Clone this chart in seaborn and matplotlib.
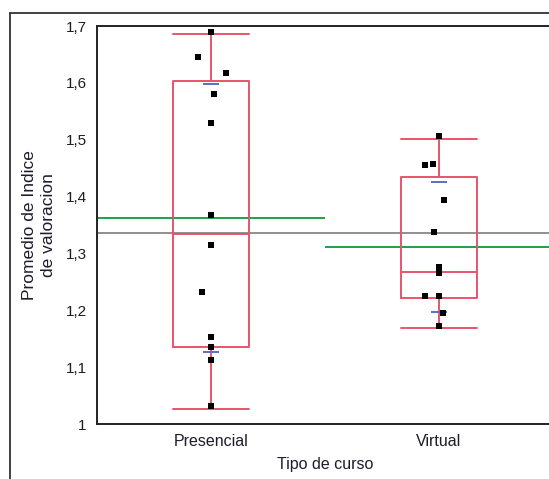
import numpy as np
import pandas as pd
import matplotlib
matplotlib.use('Agg')
import matplotlib.pyplot as plt
from matplotlib.lines import Line2D
import seaborn as sns

# datos
categorias = ['Presencial', 'Virtual']
valores_presencial = [1.690, 1.645, 1.618, 1.580, 1.530, 1.367, 1.314, 1.233, 1.153, 1.135, 1.113, 1.031]
jitter_presencial = [0, -0.057, 0.066, 0.015, 0, 0, 0, -0.04, 0, 0, 0, 0]
valores_virtual = [1.506, 1.455, 1.458, 1.394, 1.338, 1.277, 1.266, 1.226, 1.226, 1.196, 1.172]
jitter_virtual = [0, -0.061, -0.028, 0.024, -0.02, 0, 0, -0.061, 0, 0.016, 0]

# cuantiles de las cajas (min, q1, mediana, q3, max) y marcas 10% / 90%
cuantiles_presencial = [1.0265, 1.136, 1.335, 1.6035, 1.686]
cuantiles_virtual = [1.168, 1.2216, 1.2667, 1.434, 1.501]
p10_p90_presencial = [1.1275, 1.598]
p10_p90_virtual = [1.197, 1.425]
medias_grupo = [1.3627, 1.312]
media_total = 1.3367

rojo = '#e8546a'
verde = '#22a043'
gris = '#8f8f8f'
azul = '#5572c0'
texto = '#1c1c2a'

sns.set_style('white')
plt.rcParams['font.family'] = ['Liberation Sans', 'DejaVu Sans']

data = pd.DataFrame({
    'Tipo': ['Presencial'] * len(valores_presencial) + ['Virtual'] * len(valores_virtual),
    'Valor': valores_presencial + valores_virtual,
    'Jitter': jitter_presencial + jitter_virtual,
})
data['x'] = data['Tipo'].map({c: i for i, c in enumerate(categorias)}) + data['Jitter']

fig = plt.figure(figsize=(5.49, 4.79), dpi=100)
ax = fig.add_axes([97 / 549, 55 / 479, 456 / 549, 398 / 479])

# lineas de medias
ax.axhline(media_total, color=gris, lw=1.4, zorder=1)
for i, m in enumerate(medias_grupo):
    ax.hlines(m, i - 0.5, i + 0.5, color=verde, lw=1.4, zorder=1)

# cajas
stats = []
for c, q in zip(categorias, [cuantiles_presencial, cuantiles_virtual]):
    stats.append({'label': c, 'whislo': q[0], 'q1': q[1], 'med': q[2], 'q3': q[3], 'whishi': q[4]})
estilo = dict(color=rojo, lw=1.4)
ax.bxp(stats, positions=[0, 1], widths=0.337, capwidths=0.337, showfliers=False,
       boxprops=estilo, whiskerprops=estilo, capprops=estilo, medianprops=estilo,
       manage_ticks=False, zorder=2)

for i, pp in enumerate([p10_p90_presencial, p10_p90_virtual]):
    ax.hlines(pp, i - 0.033, i + 0.033, color=azul, lw=1.4, zorder=3)

# puntos
sns.scatterplot(data=data, x='x', y='Valor', marker='s', s=20, color='black',
                edgecolor='black', linewidth=0, ax=ax, zorder=4, legend=False)

ax.set_xlim(-0.5, 1.5)
ax.set_ylim(1.0, 1.7)
ax.set_yticks(np.arange(1.0, 1.71, 0.1))
ax.set_yticklabels(['1', '1,1', '1,2', '1,3', '1,4', '1,5', '1,6', '1,7'])
ax.set_xticks([-0.5, 0.5, 1.5])
ax.set_xticklabels([])
ax.set_xticks([0, 1], minor=True)
ax.set_xticklabels(categorias, minor=True)
ax.tick_params(axis='x', which='major', direction='out', length=5, width=1.2, color='black')
ax.tick_params(axis='x', which='minor', length=0, pad=7, labelsize=11.5, labelcolor=texto)
ax.tick_params(axis='y', direction='out', length=4.5, width=1.2, color='black', pad=3,
               labelsize=11, labelcolor=texto)

ax.set_xlabel('Tipo de curso', fontsize=11.5, color=texto, labelpad=6)
ax.set_ylabel('Promedio de Indice\nde valoracion', fontsize=12.5, color=texto, linespacing=1.3)
ax.yaxis.set_label_coords(-0.09, 0.5)

for s in ax.spines.values():
    s.set_color('#222222')
    s.set_linewidth(1.4)

# marco exterior
fig.add_artist(Line2D([9.5 / 549, 9.5 / 549], [0, 1 - 12.5 / 479], color='#333333', lw=1.3))
fig.add_artist(Line2D([9.5 / 549, 1], [1 - 12.5 / 479, 1 - 12.5 / 479], color='#333333', lw=1.3))

fig.savefig('out.png', dpi=100)
